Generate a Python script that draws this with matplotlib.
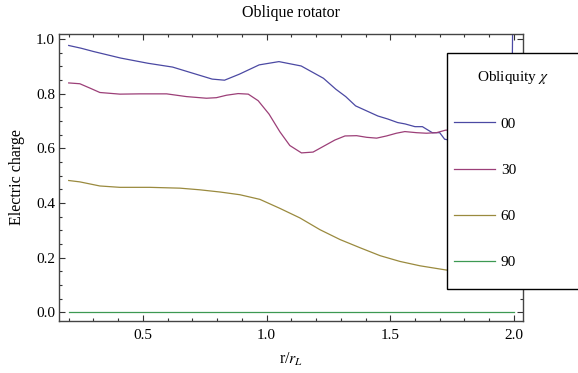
import matplotlib
matplotlib.use('Agg')
import matplotlib.pyplot as plt
from matplotlib.patches import Rectangle
from matplotlib.ticker import MultipleLocator

plt.rcParams['font.family'] = ['Liberation Serif', 'DejaVu Serif']
plt.rcParams['mathtext.fontset'] = 'stix'

# obliquity 00
x_00 = [0.20, 0.25, 0.30, 0.41, 0.52, 0.62, 0.70, 0.78, 0.83, 0.89, 0.97, 1.05,
        1.14, 1.23, 1.28, 1.32, 1.36, 1.45, 1.49, 1.53, 1.56, 1.60, 1.63, 1.67,
        1.70, 1.72, 1.80, 1.90, 1.99, 2.00]
q_00 = [0.976, 0.966, 0.954, 0.930, 0.911, 0.897, 0.875, 0.853, 0.849, 0.871, 0.905, 0.917,
        0.901, 0.856, 0.816, 0.789, 0.755, 0.718, 0.707, 0.694, 0.689, 0.679, 0.679, 0.657,
        0.657, 0.633, 0.620, 0.600, 0.600, 1.500]

# obliquity 30
x_30 = [0.20, 0.245, 0.286, 0.326, 0.407, 0.488, 0.596, 0.676, 0.757, 0.797, 0.838, 0.885,
        0.926, 0.966, 1.010, 1.054, 1.094, 1.141, 1.188, 1.236, 1.276, 1.317, 1.364, 1.405,
        1.445, 1.485, 1.525, 1.559, 1.606, 1.646, 1.687, 1.723, 1.80, 1.90, 2.00]
q_30 = [0.839, 0.836, 0.820, 0.804, 0.798, 0.799, 0.799, 0.789, 0.783, 0.785, 0.794, 0.800,
        0.798, 0.774, 0.725, 0.660, 0.610, 0.583, 0.586, 0.610, 0.630, 0.645, 0.646, 0.640,
        0.637, 0.645, 0.655, 0.661, 0.657, 0.655, 0.657, 0.666, 0.670, 0.660, 0.660]

# obliquity 60
x_60 = [0.20, 0.245, 0.326, 0.407, 0.528, 0.65, 0.73, 0.811, 0.892, 0.973, 1.054, 1.135,
        1.216, 1.297, 1.378, 1.459, 1.539, 1.62, 1.723, 1.80, 1.90, 2.00]
q_60 = [0.482, 0.477, 0.462, 0.457, 0.457, 0.454, 0.448, 0.440, 0.430, 0.413, 0.380, 0.345,
        0.302, 0.266, 0.236, 0.207, 0.186, 0.170, 0.155, 0.145, 0.135, 0.130]

# obliquity 90
x_90 = [0.20, 2.00]
q_90 = [0.0, 0.0]

labels = ['00', '30', '60', '90']
colors = ['#4b49a3', '#9c3f78', '#9a8a3e', '#3d9952']

W, H = 578, 373
fig = plt.figure(figsize=(W / 100, H / 100), dpi=100)
ax = fig.add_axes([59.3 / W, 1 - 321 / H, (523.3 - 59.3) / W, (321 - 34) / H])

lines = []
for xs, ys, c, lab in zip([x_00, x_30, x_60, x_90], [q_00, q_30, q_60, q_90], colors, labels):
    ln, = ax.plot(xs, ys, color=c, lw=0.9, label=lab)
    lines.append(ln)

ax.set_xlim(0.162, 2.038)
ax.set_ylim(-0.032, 1.018)
ax.xaxis.set_major_locator(MultipleLocator(0.5))
ax.xaxis.set_minor_locator(MultipleLocator(0.1))
ax.yaxis.set_major_locator(MultipleLocator(0.2))
ax.yaxis.set_minor_locator(MultipleLocator(0.05))
ax.tick_params(which='both', direction='in', top=True, right=True, labelsize=11,
               color='#333333', width=0.8)
ax.tick_params(which='major', length=4.5)
ax.tick_params(which='minor', length=2.5)
ax.tick_params(axis='x', pad=6)
ax.tick_params(axis='y', pad=3)
for sp in ax.spines.values():
    sp.set_color('#444444')
    sp.set_linewidth(1.0)

ax.set_title('Oblique rotator', fontsize=11.5, pad=12)
ax.set_xlabel('r/$r_L$', fontsize=11.5, labelpad=6)
ax.set_ylabel('Electric charge', fontsize=11.5, labelpad=8)

box = Rectangle((446.7 / W, 1 - 289.3 / H), 0.3, (289.3 - 53.3) / H,
                transform=fig.transFigure, facecolor='white', edgecolor='black',
                lw=1.0, zorder=3)
fig.patches.append(box)

fig.text(513 / W, 1 - 77 / H, 'Obliquity $\\chi$', fontsize=11, ha='center', va='center',
         zorder=5)

leg = fig.legend(handles=lines, labels=labels, loc='upper left',
                 bbox_to_anchor=(448 / W, 1 - 111 / H), frameon=False,
                 fontsize=11, handlelength=2.7, handletextpad=0.35,
                 labelspacing=2.12, borderaxespad=0)
leg.set_zorder(5)

fig.savefig('out.png', dpi=100)
